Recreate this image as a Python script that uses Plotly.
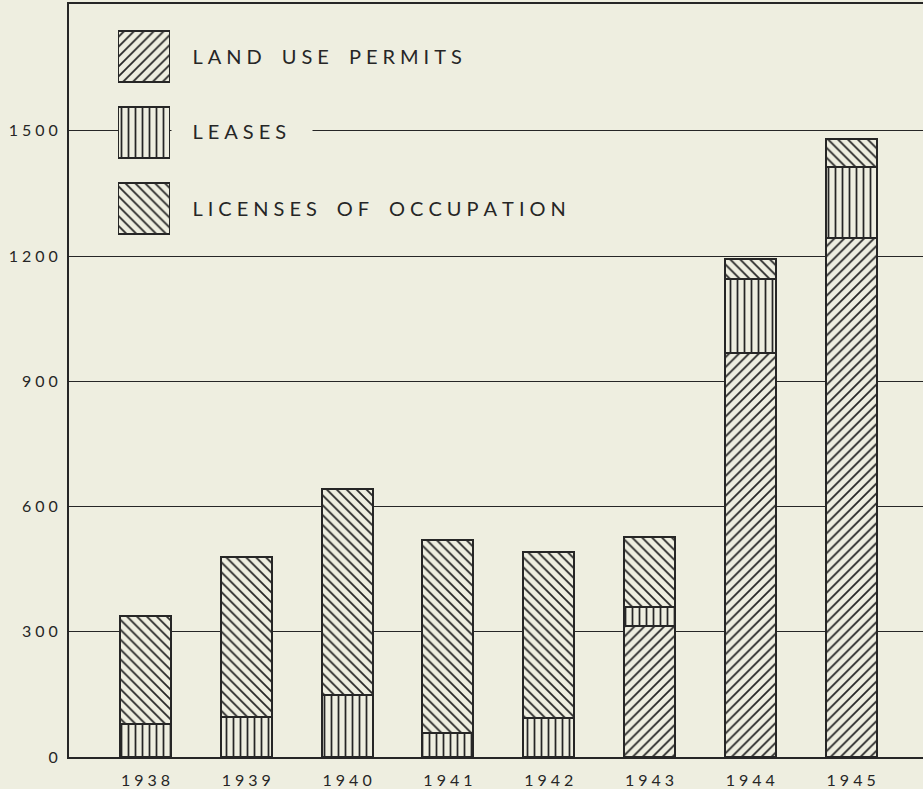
import plotly.graph_objects as go

years = [1938, 1939, 1940, 1941, 1942, 1943, 1944, 1945]
land_use_permits = [0, 0, 0, 0, 0, 314, 967, 1243]
leases = [80, 96, 149, 58, 94, 46, 178, 171]
licenses_of_occupation = [258, 384, 494, 463, 396, 168, 48, 66]

series_names = ["LAND USE PERMITS", "LEASES", "LICENSES OF OCCUPATION"]
y_ticks = [0, 300, 600, 900, 1200, 1500]

BG = "#eeeee0"
INK = "#262626"
patterns = ["/", "|", "\\"]
pattern_sizes = [7, 7, 7]


def spaced(s, gap="\u2005"):
    return gap.join("\u2002" if c == " " else c for c in s)


fig = go.Figure()
for name, vals, shp, sz in zip(series_names, [land_use_permits, leases, licenses_of_occupation], patterns, pattern_sizes):
    fig.add_trace(go.Bar(
        x=years, y=vals, name=name, width=0.506,
        marker=dict(color=BG, line=dict(color=INK, width=2),
                    pattern=dict(shape=shp, size=sz, solidity=0.25, fgcolor=INK, bgcolor=BG, fillmode="replace")),
        showlegend=False, xaxis="x", yaxis="y",
    ))

# legend swatches drawn as a tiny horizontal bar chart in its own axes
for i, (name, shp) in enumerate(zip(series_names, patterns)):
    fig.add_trace(go.Bar(
        y=[i], x=[1], orientation="h", width=0.671, base=0,
        marker=dict(color=BG, line=dict(color=INK, width=2),
                    pattern=dict(shape=shp, size=7, solidity=0.25, fgcolor=INK, bgcolor=BG, fillmode="replace")),
        showlegend=False, xaxis="x2", yaxis="y2", hoverinfo="skip",
    ))

W, H = 923, 789
L, R, T, B = 69, 0, 4, 32
pw, ph = W - L - R, H - T - B


def px_x(p):
    return (p - L) / pw


def px_y(p):
    return (H - B - p) / ph


annotations = []
centers = [55.5, 131.5, 207.5]
for name, cy in zip(series_names, centers):
    annotations.append(dict(
        x=px_x(171), y=px_y(cy), xref="paper", yref="paper", xanchor="left", yanchor="middle",
        text="\u00a0" * 4 + spaced(name, "\u2005") + "\u00a0" * 5,
        showarrow=False, bgcolor=BG, borderpad=0,
        font=dict(family="Lato, 'Noto Sans', sans-serif", size=20, color=INK),
    ))

fig.update_layout(
    width=W, height=H,
    margin=dict(l=L, r=R, t=T, b=B, pad=0),
    paper_bgcolor=BG, plot_bgcolor=BG,
    barmode="stack", bargap=0,
    showlegend=False,
    font=dict(family="Lato, 'Noto Sans', sans-serif", color=INK),
    xaxis=dict(
        range=[1937.241, 1945.713], tickvals=years, ticktext=[spaced(str(y)) for y in years],
        showgrid=False, zeroline=False, showline=True, mirror=True, linecolor=INK, linewidth=2,
        ticks="", ticklabelstandoff=8, tickfont=dict(size=16, color=INK), domain=[0, 1],
    ),
    yaxis=dict(
        range=[0, 1804], tickvals=y_ticks, ticktext=[spaced(str(v)) for v in y_ticks],
        showgrid=True, gridcolor=INK, gridwidth=1.3, zeroline=False,
        showline=True, linecolor=INK, linewidth=2, ticks="", ticklabelstandoff=6,
        tickfont=dict(size=16, color=INK), domain=[0, 1],
    ),
    xaxis2=dict(domain=[px_x(118), px_x(170)], range=[0, 1], anchor="y2", visible=False,
                showgrid=False, zeroline=False),
    yaxis2=dict(domain=[px_y(245.5), px_y(17.5)], range=[2.5, -0.5], anchor="x2", visible=False,
                showgrid=False, zeroline=False),
    annotations=annotations,
)

fig.write_html(
    "out.html",
    config={"displayModeBar": False},
    post_script="document.body.style.margin='0';document.body.style.padding='0';"
                "document.body.style.background='" + BG + "';document.body.style.overflow='hidden';",
)
